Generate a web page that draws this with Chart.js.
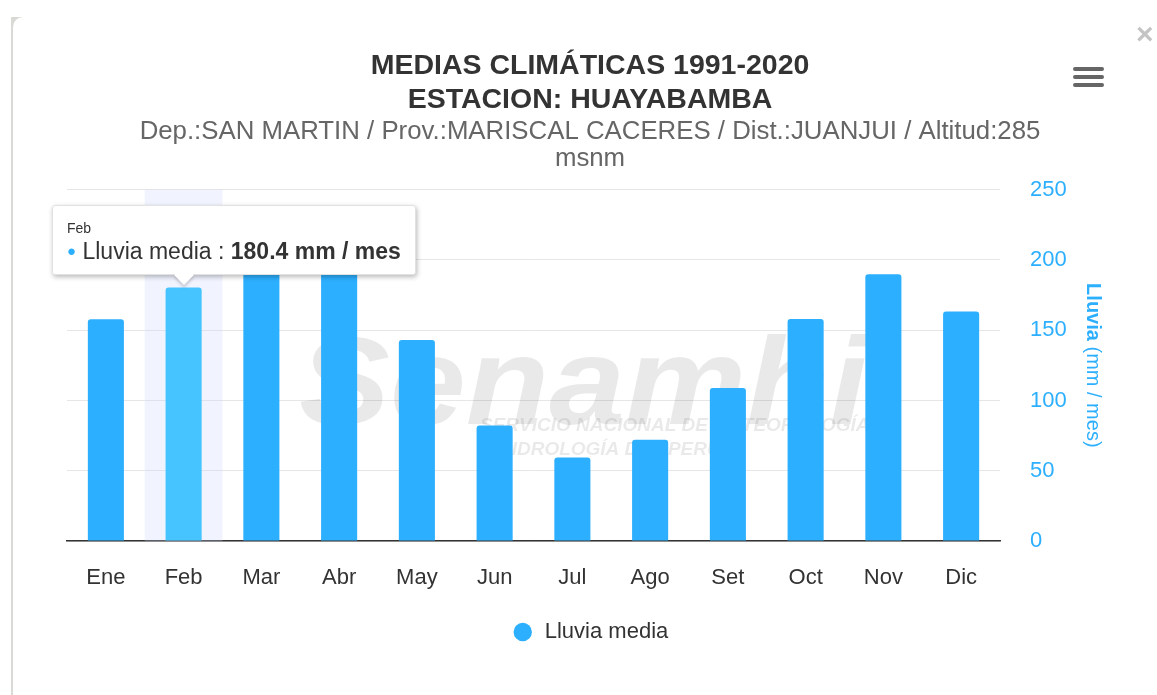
<!DOCTYPE html>
<html>
<head>
<meta charset="utf-8">
<title>Medias climáticas - Huayabamba</title>
<script src="https://cdn.jsdelivr.net/npm/chart.js"></script>
<style>
  body { margin: 0; background: #fff; font-family: "Liberation Sans", Arial, sans-serif; overflow: hidden; }
  #edge { position: absolute; left: 11px; top: 17px; width: 14px; height: 678px; background: #d9d9d6; }
  #card { position: absolute; left: 13px; top: 17px; width: 1200px; height: 720px; border-top-left-radius: 10px; background: #fff; }
  #c { position: absolute; left: 0; top: 0; }
  #close { position: absolute; left: 1136px; top: 17px; font: bold 30px "Liberation Sans", Arial; color: #c4c4c4; }
  #menu { position: absolute; left: 1073px; top: 67px; width: 31px; }
  #menu span { display: block; height: 4px; background: #666; border-radius: 2px; margin-bottom: 4px; }
  #tip { position: absolute; display: none; background: #fff; border: 1px solid #e2e2e2; border-radius: 3px;
         box-shadow: 1px 2px 5px rgba(0,0,0,0.28); padding: 13px 14px 10px 14px; color: #333; white-space: nowrap; }
  #tip .t { font-size: 14px; line-height: 19px; }
  #tip .b { font-size: 23px; line-height: 26px; }
  #tip .dot { color: #2caffe; font-size: 15px; vertical-align: 3px; }
  #tip .caret { position: absolute; bottom: -8px; width: 14px; height: 14px; background: #fff;
                transform: rotate(45deg); box-shadow: 2px 2px 3px rgba(0,0,0,0.18); }
  #tip .cover { position: absolute; left: 0; right: 0; bottom: 0; height: 10px; background: #fff; border-radius: 3px; }
</style>
</head>
<body>
<div id="edge"></div>
<div id="card"></div>
<canvas id="c" width="1157" height="695"></canvas>
<div id="close">×</div>
<div id="menu"><span></span><span></span><span></span></div>
<div id="tip"></div>
<script>
const meses = ['Ene', 'Feb', 'Mar', 'Abr', 'May', 'Jun', 'Jul', 'Ago', 'Set', 'Oct', 'Nov', 'Dic'];
const lluvia = [157.8, 180.4, 206.3, 198.6, 143.1, 82.3, 59.4, 72.0, 108.9, 157.9, 189.7, 163.3];
const yTicks = [0, 50, 100, 150, 200, 250];
const serie = 'Lluvia media';
const unidad = 'mm / mes';
const titulo = ['MEDIAS CLIMÁTICAS 1991-2020', 'ESTACION: HUAYABAMBA'];
const subtitulo = ['Dep.:SAN MARTIN / Prov.:MARISCAL CACERES / Dist.:JUANJUI / Altitud:285', 'msnm'];
const yTitulo = ['Lluvia', ' (mm / mes)'];
const activo = 1; // Feb, con tooltip

const azul = '#2caffe';
const azulHover = '#46c4ff';
const fuente = '"Liberation Sans", Arial, sans-serif';
Chart.defaults.font.family = fuente;

// marca de agua + banda de hover, detrás de las barras
const fondo = {
  id: 'fondo',
  beforeDatasetsDraw(chart) {
    const {ctx, chartArea: a, scales: {x}} = chart;
    ctx.save();
    chart.getActiveElements().forEach(el => {
      const w = x.width / meses.length;
      const cx = x.getPixelForValue(el.index);
      ctx.fillStyle = 'rgba(204,214,255,0.28)';
      ctx.fillRect(cx - w / 2, a.top, w, a.bottom - a.top);
    });
    ctx.fillStyle = 'rgba(0,0,0,0.085)';
    ctx.save();
    ctx.translate(a.left + 232, a.top + 200);
    ctx.scale(1.1, 1);
    ctx.font = 'italic bold 124px ' + fuente;
    ctx.fillText('Senamhi', 0, 0);
    ctx.restore();
    ctx.font = 'italic bold 19px ' + fuente;
    ctx.fillText('SERVICIO NACIONAL DE METEOROLOGÍA', a.left + 413, a.top + 236);
    ctx.fillText('E HIDROLOGÍA DEL PERÚ', a.left + 413, a.top + 260);
    ctx.restore();
  }
};

// título del eje Y con "Lluvia" en negrita
const tituloY = {
  id: 'tituloY',
  afterDraw(chart) {
    const {ctx, chartArea: a} = chart;
    ctx.save();
    ctx.translate(a.right + 93, (a.top + a.bottom) / 2);
    ctx.rotate(Math.PI / 2);
    ctx.fillStyle = azul;
    ctx.textBaseline = 'middle';
    ctx.font = 'bold 20px ' + fuente;
    const w1 = ctx.measureText(yTitulo[0]).width;
    ctx.font = '20px ' + fuente;
    const w2 = ctx.measureText(yTitulo[1]).width;
    const x0 = -(w1 + w2) / 2;
    ctx.font = 'bold 20px ' + fuente;
    ctx.fillText(yTitulo[0], x0, 0);
    ctx.font = '20px ' + fuente;
    ctx.fillText(yTitulo[1], x0 + w1, 0);
    ctx.restore();
  }
};

function tooltipHtml(context) {
  const chart = context.chart;
  const m = context.tooltip;
  const el = document.getElementById('tip');
  if (m.opacity === 0 || !m.dataPoints || !m.dataPoints.length) { el.style.display = 'none'; return; }
  const i = m.dataPoints[0].dataIndex;
  const bar = chart.getDatasetMeta(0).data[i];
  el.innerHTML = '<div class="t">' + meses[i] + '</div>' +
    '<div class="b"><span class="dot">●</span> ' + serie + ' : <b>' + lluvia[i].toFixed(1) + ' ' + unidad + '</b></div>' +
    '<i class="caret"></i><i class="cover"></i>';
  el.style.display = 'block';
  const w = el.offsetWidth, h = el.offsetHeight;
  const left = Math.max(bar.x - w / 2, chart.chartArea.left - 15);
  el.style.left = left + 'px';
  el.style.top = (bar.y - 12 - h) + 'px';
  el.querySelector('.caret').style.left = (bar.x - left - 8) + 'px';
}

const chart = new Chart(document.getElementById('c'), {
  type: 'bar',
  data: {
    labels: meses,
    datasets: [{
      label: serie,
      data: lluvia,
      backgroundColor: azul,
      hoverBackgroundColor: azulHover,
      borderWidth: 0,
      borderRadius: {topLeft: 3, topRight: 3},
      borderSkipped: 'start',
      barPercentage: 0.58,
      categoryPercentage: 0.8
    }]
  },
  options: {
    responsive: false,
    animation: false,
    events: [],
    layout: { padding: { left: 67, right: 44, top: 0, bottom: 42 } },
    scales: {
      x: {
        grid: { display: false },
        border: { display: true, color: '#333', width: 1.5 },
        ticks: { color: '#333', font: { size: 22 }, padding: 16 }
      },
      y: {
        position: 'right',
        min: yTicks[0],
        max: yTicks[yTicks.length - 1],
        afterFit(s) { s.width = 113; },
        grid: { color: '#e6e6e6', drawTicks: false },
        border: { display: false },
        ticks: { stepSize: yTicks[1] - yTicks[0], color: azul, font: { size: 22 }, padding: 30 }
      }
    },
    plugins: {
      title: {
        display: true, text: titulo, color: '#333',
        font: { size: 28.5, weight: 'bold', lineHeight: 1.2 },
        padding: { top: 49, bottom: 1 }
      },
      subtitle: {
        display: true, text: subtitulo, color: '#666',
        font: { size: 25.8, lineHeight: 1.05 },
        padding: { top: 0, bottom: 17 }
      },
      legend: {
        position: 'bottom',
        labels: {
          color: '#333', font: { size: 22 }, usePointStyle: true, pointStyle: 'circle',
          boxWidth: 22, boxHeight: 13, padding: 13.5
        }
      },
      tooltip: { enabled: false, external: tooltipHtml }
    }
  },
  plugins: [fondo, tituloY]
});

const act = [{ datasetIndex: 0, index: activo }];
chart.setActiveElements(act);
chart.tooltip.setActiveElements(act, { x: 0, y: 0 });
chart.update();
</script>
</body>
</html>
